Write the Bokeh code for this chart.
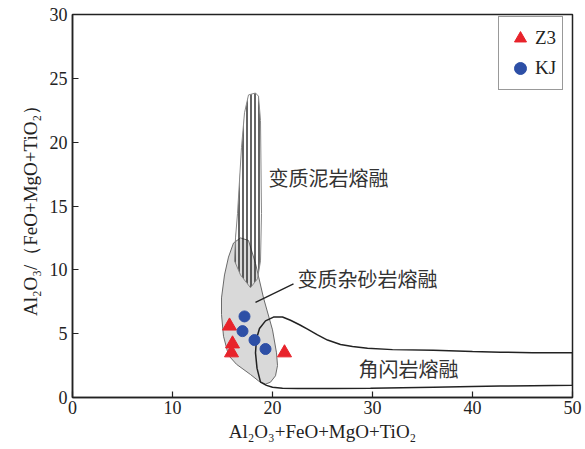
from bokeh.plotting import figure
from bokeh.models import Range1d, Legend, LegendItem, FixedTicker
from bokeh.core.properties import value
from bokeh.embed import file_html
from bokeh.resources import INLINE

# ---- data ----
z3_x = [15.7, 16.0, 15.9, 21.2]
z3_y = [5.6, 4.2, 3.5, 3.5]
kj_x = [17.2, 17.0, 18.2, 19.3]
kj_y = [6.35, 5.2, 4.5, 3.8]

# field outlines
pelite_x = [17.8, 16.8, 16.2, 16.3, 16.5, 16.9, 17.2, 17.6, 18.3, 18.6, 18.8, 18.9, 18.8, 18.5, 17.8]
pelite_y = [8.6, 9.6, 10.7, 12.5, 14.4, 19.6, 22.3, 23.7, 23.85, 23.6, 21.7, 14.4, 10.7, 9.3, 8.6]

greywacke_x = [16.8, 17.6, 18.3, 19.1, 20.0, 20.4, 20.5, 20.3, 19.8, 19.3, 18.6, 17.8, 16.4, 15.6,
               15.1, 14.9, 14.9, 15.2, 15.6, 16.1]
greywacke_y = [12.5, 12.3, 10.5, 7.8, 5.3, 3.5, 2.5, 1.7, 1.2, 1.05, 1.3, 1.8, 2.6, 3.3,
               4.8, 6.5, 7.8, 9.6, 11.0, 12.1]

amph_x = [18.8, 18.45, 18.3, 18.4, 18.7, 19.3, 20.1, 21.0, 21.8, 22.7, 23.5, 24.5, 25.5, 26.8,
          28.0, 29.5, 32.0, 36.1, 40.0, 42.8, 46.0, 50.0, 50.0, 46.0, 42.8, 40.0, 36.1, 33.0,
          29.8, 26.0, 22.5, 21.0, 20.0, 19.4]
amph_y = [1.2, 2.3, 3.5, 4.6, 5.4, 6.0, 6.3, 6.3, 6.05, 5.7, 5.35, 4.9, 4.5, 4.15,
          4.0, 3.85, 3.75, 3.7, 3.6, 3.55, 3.5, 3.5, 0.95, 0.92, 0.9, 0.86, 0.8, 0.76,
          0.72, 0.7, 0.7, 0.72, 0.8, 0.95]

field_labels = ["变质泥岩熔融", "变质杂砂岩熔融", "角闪岩熔融"]
label_x = [19.6, 22.5, 28.6]
label_y = [17.2, 9.33, 2.27]
leader_x = [18.3, 22.1]
leader_y = [7.45, 8.9]

x_ticks = [0, 10, 20, 30, 40, 50]
y_ticks = [0, 5, 10, 15, 20, 25, 30]

SERIF = "Liberation Serif"
CJK = "Noto Sans CJK SC"

p = figure(width=585, height=449, output_backend="svg", toolbar_location=None,
           x_range=Range1d(0, 50), y_range=Range1d(0, 30),
           min_border_left=72, min_border_right=13, min_border_top=14, min_border_bottom=52)
p.grid.visible = False
p.background_fill_color = "white"
p.border_fill_color = "white"
p.outline_line_color = "#222222"
p.outline_line_width = 1.5

for ax in (p.xaxis[0], p.yaxis[0]):
    ax.axis_line_color = "#222222"
    ax.axis_line_width = 1.5
    ax.major_tick_in = 6
    ax.major_tick_out = 0
    ax.minor_tick_in = 0
    ax.minor_tick_out = 0
    ax.major_tick_line_color = "#222222"
    ax.major_tick_line_width = 1.2
    ax.major_label_text_font = SERIF
    ax.major_label_text_font_size = "18px"
    ax.major_label_text_color = "#222222"
    ax.axis_label_text_font = SERIF
    ax.axis_label_text_font_size = "19px"
    ax.axis_label_text_font_style = "normal"
    ax.axis_label_text_color = "#222222"

p.xaxis.ticker = FixedTicker(ticks=x_ticks)
p.yaxis.ticker = FixedTicker(ticks=y_ticks)
p.xaxis.major_label_standoff = 3
p.xaxis.axis_label_standoff = 4
p.yaxis.major_label_standoff = 5
p.yaxis.axis_label_standoff = 6
p.xaxis.axis_label = "Al₂O₃+FeO+MgO+TiO₂"
p.yaxis.axis_label = "Al₂O₃/（FeO+MgO+TiO₂）"

# fields
p.patch(greywacke_x, greywacke_y, fill_color="#d9d9d9", line_color="#6a6a6a", line_width=1)
p.patch(pelite_x, pelite_y, fill_alpha=0, line_color="#888888", line_width=1,
        hatch_pattern="vertical_line", hatch_scale=4, hatch_weight=1.4, hatch_color="#222222")
p.patch(amph_x, amph_y, fill_alpha=0, line_color="#222222", line_width=1.5)

# labels
p.text(label_x, label_y, text=field_labels, text_font=value(CJK), text_font_size="20px",
       text_color="#333333", text_baseline="middle", text_align="left")
p.line(leader_x, leader_y, line_color="#222222", line_width=1.3)

# samples
r_z3 = p.scatter(z3_x, z3_y, marker="triangle", size=14, fill_color="#e8232b", line_color="#e8232b")
r_kj = p.scatter(kj_x, kj_y, marker="circle", size=11, fill_color="#2d4fa6", line_color="#2d4fa6")

legend = Legend(items=[LegendItem(label="Z3", renderers=[r_z3]),
                       LegendItem(label="KJ", renderers=[r_kj])],
                location=(426, 307))
legend.label_text_font = SERIF
legend.label_text_font_size = "19px"
legend.label_text_color = "#222222"
legend.border_line_color = "#333333"
legend.border_line_width = 1.5
legend.glyph_width = 30
legend.glyph_height = 30
legend.label_height = 30
legend.spacing = -8
legend.padding = 6
legend.label_standoff = 0
legend.margin = 0
p.add_layout(legend)

open("out.html", "w").write(file_html(p, INLINE))
